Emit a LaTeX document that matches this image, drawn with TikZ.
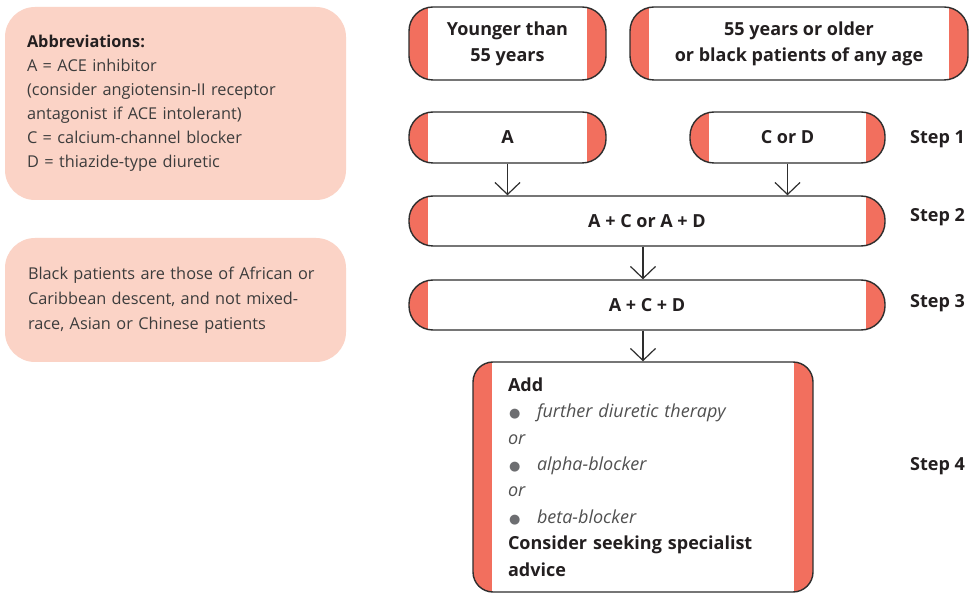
\documentclass[tikz,border=0pt]{standalone}
\usepackage{fontspec}
\setmainfont{Open Sans}
\newfontfamily\symfont{DejaVu Sans}
\usetikzlibrary{arrows.meta}
\definecolor{band}{HTML}{F26F5E}
\definecolor{notefill}{HTML}{FBD3C6}
\definecolor{edge}{HTML}{2E2E2E}
\definecolor{txt}{HTML}{231F20}
\definecolor{softtxt}{HTML}{3C3C3C}
\definecolor{itx}{HTML}{505050}
\definecolor{dotc}{HTML}{6D6E71}
\newcommand\bulitem{\makebox[29pt][l]{\hspace{1pt}\textcolor{dotc}{\symfont\fontsize{13}{13}\selectfont ●}}}
\tikzset{
  pill/.style={draw=edge, line width=1.4pt, fill=white, inner sep=0pt, align=center,
    font=\bfseries\fontsize{18}{26}\selectfont, text=txt, rounded corners=#1,
    path picture={
      \fill[band, sharp corners] (path picture bounding box.north west) rectangle ([xshift=19pt]path picture bounding box.south west);
      \fill[band, sharp corners] ([xshift=-19pt]path picture bounding box.north east) rectangle (path picture bounding box.south east);}},
  notebox/.style={fill=notefill, rounded corners=30pt, inner ysep=0pt, align=left,
    text=softtxt, font=\fontsize{16.3}{24}\selectfont},
  steplabel/.style={anchor=west, inner sep=0pt, text=txt, font=\bfseries\fontsize{18}{24}\selectfont},
  arr/.style={draw=edge, line width=1.3pt, -{Straight Barb[length=12pt, width=25pt, line width=1.2pt]}}
}
\begin{document}
\begin{tikzpicture}[x=1pt, y=-1pt]
\clip (0,0) rectangle (969,593);
\fill[white] (0,0) rectangle (969,593);

% notes on the left
\node[notebox, minimum width=341pt, minimum height=193pt, text width=301pt, inner xsep=20pt] (abbr) at (175.5,103.5)
  {\hspace*{2pt}\textbf{\textcolor{txt}{Abbreviations:}}\\
   \hspace*{2pt}A = ACE inhibitor\\
   \hspace*{2pt}(consider angiotensin-II receptor\\
   \hspace*{2pt}antagonist if ACE intolerant)\\
   \hspace*{2pt}C = calcium-channel blocker\\
   \hspace*{2pt}D = thiazide-type diuretic};
\node[notebox, minimum width=341pt, minimum height=124pt, text width=301pt, inner xsep=20pt, font=\fontsize{16.3}{25}\selectfont] (black) at (175.5,300)
  {\hspace*{3pt}Black patients are those of African or\\
   \hspace*{3pt}Caribbean descent, and not mixed-\\
   \hspace*{3pt}race, Asian or Chinese patients};

% flow boxes
\node[pill=24pt, minimum width=197pt, minimum height=73pt] (young) at (507.5,43.5) {Younger than\\55 years};
\node[pill=24pt, minimum width=338pt, minimum height=73pt] (old) at (799,43.5) {55 years or older\\or black patients of any age};
\node[pill=24pt, minimum width=197pt, minimum height=51pt] (A) at (507.5,137.5) {A};
\node[pill=24pt, minimum width=195pt, minimum height=51pt] (CD) at (787.5,137.5) {C or D};
\node[pill=24pt, minimum width=476pt, minimum height=50pt] (S2) at (647,221) {A + C or A + D};
\node[pill=24pt, minimum width=476pt, minimum height=50pt] (S3) at (647,305) {A + C + D};
\node[pill=20pt, minimum width=340pt, minimum height=230pt, text width=270pt, inner xsep=35pt, inner ysep=0pt,
      align=left, font=\fontsize{18}{26.4}\selectfont, text=itx] (S4) at (643,477)
  {\textbf{\textcolor{txt}{Add}}\\
   \bulitem\textit{further diuretic therapy}\\
   \textit{or}\\
   \bulitem\textit{alpha-blocker}\\
   \textit{or}\\
   \bulitem\textit{beta-blocker}\\
   \textbf{\textcolor{txt}{Consider seeking specialist}}\\
   \textbf{\textcolor{txt}{advice}}};

% step labels
\node[steplabel] (st1) at (910,139) {Step 1};
\node[steplabel] (st2) at (910,217) {Step 2};
\node[steplabel] (st3) at (910,303) {Step 3};
\node[steplabel] (st4) at (910,466) {Step 4};

% connectors
\draw[arr] (A.south) -- (A.south |- S2.north);
\draw[arr] (CD.south) -- (CD.south |- S2.north);
\draw[arr] (S2.south -| S4.north) -- (S3.north -| S4.north);
\draw[arr] (S3.south -| S4.north) -- (S4.north);
\end{tikzpicture}
\end{document}
